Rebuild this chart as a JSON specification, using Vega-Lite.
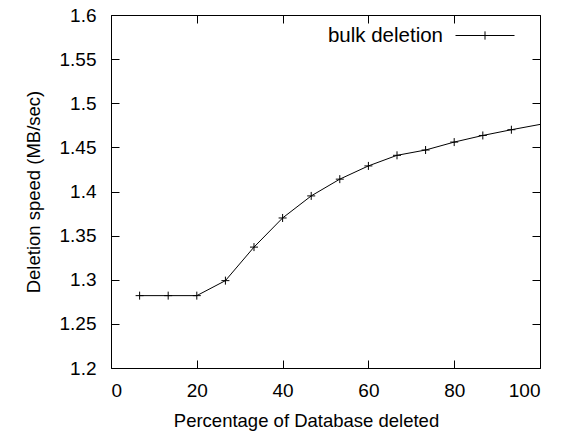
{
  "$schema": "https://vega.github.io/schema/vega-lite/v6.json",
  "autosize": {"type": "none"},
  "width": 429,
  "height": 353,
  "padding": {"left": 111, "top": 15, "right": 28, "bottom": 64},
  "background": "white",
  "config": {
    "font": "Liberation Sans",
    "view": {"stroke": "black", "strokeWidth": 1},
    "axis": {
      "grid": false,
      "domain": false,
      "tickColor": "black",
      "tickSize": -8,
      "tickWidth": 1,
      "labelColor": "black",
      "labelFontSize": 19,
      "labelFont": "Liberation Sans",
      "titleFont": "Liberation Sans",
      "titleFontSize": 18.5,
      "titleFontWeight": "normal",
      "titleColor": "black"
    }
  },
  "data": {
    "values": [
      {"pct": 6.67, "speed": 1.282, "series": "bulk deletion"},
      {"pct": 13.33, "speed": 1.282, "series": "bulk deletion"},
      {"pct": 20.0, "speed": 1.282, "series": "bulk deletion"},
      {"pct": 26.67, "speed": 1.299, "series": "bulk deletion"},
      {"pct": 33.33, "speed": 1.337, "series": "bulk deletion"},
      {"pct": 40.0, "speed": 1.37, "series": "bulk deletion"},
      {"pct": 46.67, "speed": 1.395, "series": "bulk deletion"},
      {"pct": 53.33, "speed": 1.414, "series": "bulk deletion"},
      {"pct": 60.0, "speed": 1.429, "series": "bulk deletion"},
      {"pct": 66.67, "speed": 1.441, "series": "bulk deletion"},
      {"pct": 73.33, "speed": 1.447, "series": "bulk deletion"},
      {"pct": 80.0, "speed": 1.456, "series": "bulk deletion"},
      {"pct": 86.67, "speed": 1.4635, "series": "bulk deletion"},
      {"pct": 93.33, "speed": 1.470, "series": "bulk deletion"},
      {"pct": 106.67, "speed": 1.482, "series": "bulk deletion"}
    ]
  },
  "resolve": {"axis": {"x": "independent", "y": "independent"}},
  "layer": [
    {
      "mark": {"type": "line", "clip": true, "strokeWidth": 1},
      "encoding": {
        "x": {
          "field": "pct", "type": "quantitative",
          "scale": {"domain": [0, 100], "nice": false, "zero": false},
          "axis": {"orient": "bottom", "values": [0, 20, 40, 60, 80, 100], "labelPadding": 21, "title": "Percentage of Database deleted", "titlePadding": 11, "titleX": 195, "titleAlign": "center"}
        },
        "y": {
          "field": "speed", "type": "quantitative",
          "scale": {"domain": [1.2, 1.6], "nice": false, "zero": false},
          "axis": {"orient": "left", "values": [1.2, 1.25, 1.3, 1.35, 1.4, 1.45, 1.5, 1.55, 1.6], "format": "~g", "labelPadding": 23, "title": "Deletion speed (MB/sec)", "titlePadding": 16}
        },
        "color": {
          "field": "series", "type": "nominal",
          "scale": {"range": ["black"]},
          "legend": {
            "title": null,
            "orient": "none",
            "legendX": 344,
            "legendY": -9.5,
            "symbolType": "M-1,0H1M0,-0.14V0.14",
            "symbolSize": 3481,
            "symbolStrokeWidth": 1,
            "symbolFillColor": "transparent",
            "symbolStrokeColor": "black",
            "labelAlign": "right",
            "labelOffset": -72,
            "labelFontSize": 20.5,
            "labelFont": "Liberation Sans",
            "labelColor": "black",
            "labelLimit": 300
          }
        }
      }
    },
    {
      "mark": {"type": "point", "clip": true, "shape": "M-1,0H1M0,-1V1", "size": 64, "filled": false, "stroke": "black", "strokeWidth": 1, "opacity": 1},
      "encoding": {
        "x": {"field": "pct", "type": "quantitative", "axis": {"orient": "top", "values": [0, 20, 40, 60, 80, 100], "labels": false, "title": null}},
        "y": {"field": "speed", "type": "quantitative", "axis": {"orient": "right", "values": [1.2, 1.25, 1.3, 1.35, 1.4, 1.45, 1.5, 1.55, 1.6], "labels": false, "title": null}}
      }
    }
  ]
}
